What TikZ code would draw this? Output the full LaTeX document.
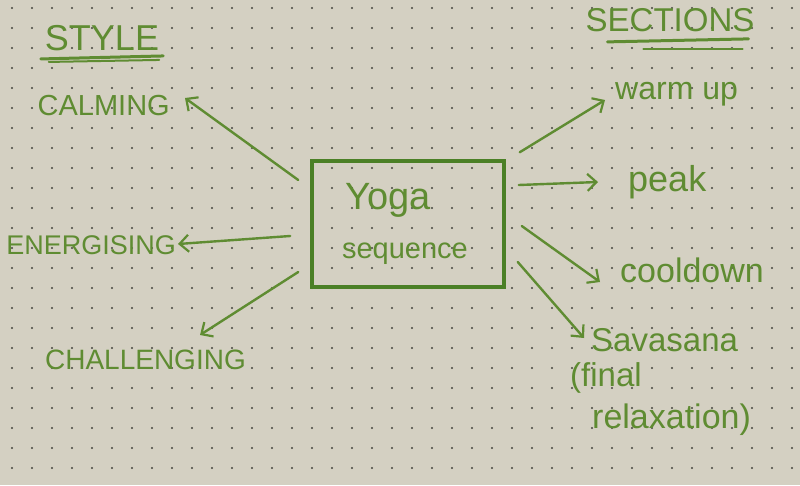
\documentclass[tikz,border=0pt]{standalone}
\usepackage{fontspec}
\setmainfont{Liberation Sans}
\usetikzlibrary{arrows.meta}
\definecolor{paper}{RGB}{212,208,194}
\definecolor{ink}{RGB}{95,140,50}
\definecolor{inkdark}{RGB}{75,128,38}
\definecolor{dotc}{RGB}{70,70,62}
\begin{document}
\begin{tikzpicture}[x=1pt,y=-1pt,
  lbl/.style={text=ink, inner sep=0pt},
  arr/.style={draw=ink, line width=2.4pt, line cap=round,
    -{Straight Barb[length=9pt,width=17pt,line width=2.2pt]}},
  uline/.style={draw=ink, line width=3pt, line cap=round},
  boxsty/.style={draw=inkdark, line width=3.5pt, minimum width=192pt, minimum height=126pt, inner sep=0pt}]
\fill[paper] (0,0) rectangle (800,485);
\useasboundingbox (0,0) rectangle (800,485);
\foreach \i in {0,...,39} \foreach \j in {0,...,24} \fill[dotc] (12+20*\i, 8+20*\j) circle (1.1pt);

% headings
\node[lbl, font=\fontsize{36}{38}\selectfont] (style) at (102,38) {STYLE};
\draw[uline] ([xshift=-4pt,yshift=-8pt]style.south west) -- ([xshift=4pt,yshift=-5pt]style.south east);
\draw[uline, line width=2pt] ([xshift=4pt,yshift=-11pt]style.south west) -- ([xshift=0pt,yshift=-9pt]style.south east);
\node[lbl, font=\fontsize{33}{35}\selectfont] (sections) at (670,20) {SECTIONS};
\draw[uline] ([xshift=22pt,yshift=-10pt]sections.south west) -- ([xshift=-6pt,yshift=-7pt]sections.south east);
\draw[uline, line width=2pt] ([xshift=58pt,yshift=-17pt]sections.south west) -- ([xshift=-12pt,yshift=-17pt]sections.south east);

% centre box
\node[boxsty] (box) at (408,224) {};
\node[lbl, font=\fontsize{38}{40}\selectfont] (yoga) at (388,200) {Yoga};
\node[lbl, font=\fontsize{29}{31}\selectfont] (seq) at (405,254) {sequence};

% style labels
\node[lbl, font=\fontsize{29}{31}\selectfont, anchor=east] (calming) at (170,106) {CALMING};
\node[lbl, font=\fontsize{27}{29}\selectfont, anchor=east] (energising) at (176,245) {ENERGISING};
\node[lbl, font=\fontsize{28}{30}\selectfont, anchor=north east] (challenging) at (246,350) {CHALLENGING};

% section labels
\node[lbl, font=\fontsize{32}{34}\selectfont, anchor=west] (warmup) at (615,94) {warm up};
\node[lbl, font=\fontsize{36}{38}\selectfont, anchor=west] (peak) at (628,182) {peak};
\node[lbl, font=\fontsize{34}{36}\selectfont, anchor=west] (cooldown) at (620,270) {cooldown};
\node[lbl, font=\fontsize{33}{35}\selectfont, anchor=west] (savasana) at (591,340) {Savasana};
\node[lbl, font=\fontsize{33}{35}\selectfont, anchor=west] (final) at (570,378) {(final};
\node[lbl, font=\fontsize{34}{36}\selectfont, anchor=west] (relax) at (592,420) {relaxation)};

% connectors
\draw[arr] ([xshift=-12pt,yshift=44pt]box.west) -- ([xshift=15pt,yshift=8pt]calming.east);
\draw[arr] ([xshift=-20pt,yshift=-12pt]box.west) -- ([xshift=2pt,yshift=1pt]energising.east);
\draw[arr] ([xshift=-12pt,yshift=-48pt]box.west) -- ([xshift=-46pt,yshift=15pt]challenging.north east);
\draw[arr] ([xshift=14pt,yshift=7pt]box.north east) -- ([xshift=-10pt,yshift=-6pt]warmup.west);
\draw[arr] ([xshift=13pt,yshift=39pt]box.east) -- ([xshift=-30pt]peak.west);
\draw[arr] ([xshift=16pt,yshift=-2pt]box.east) -- ([xshift=-20pt,yshift=-12pt]cooldown.west);
\draw[arr] ([xshift=12pt,yshift=-38pt]box.east) -- ([xshift=-7pt,yshift=2pt]savasana.west);
\end{tikzpicture}
\end{document}
